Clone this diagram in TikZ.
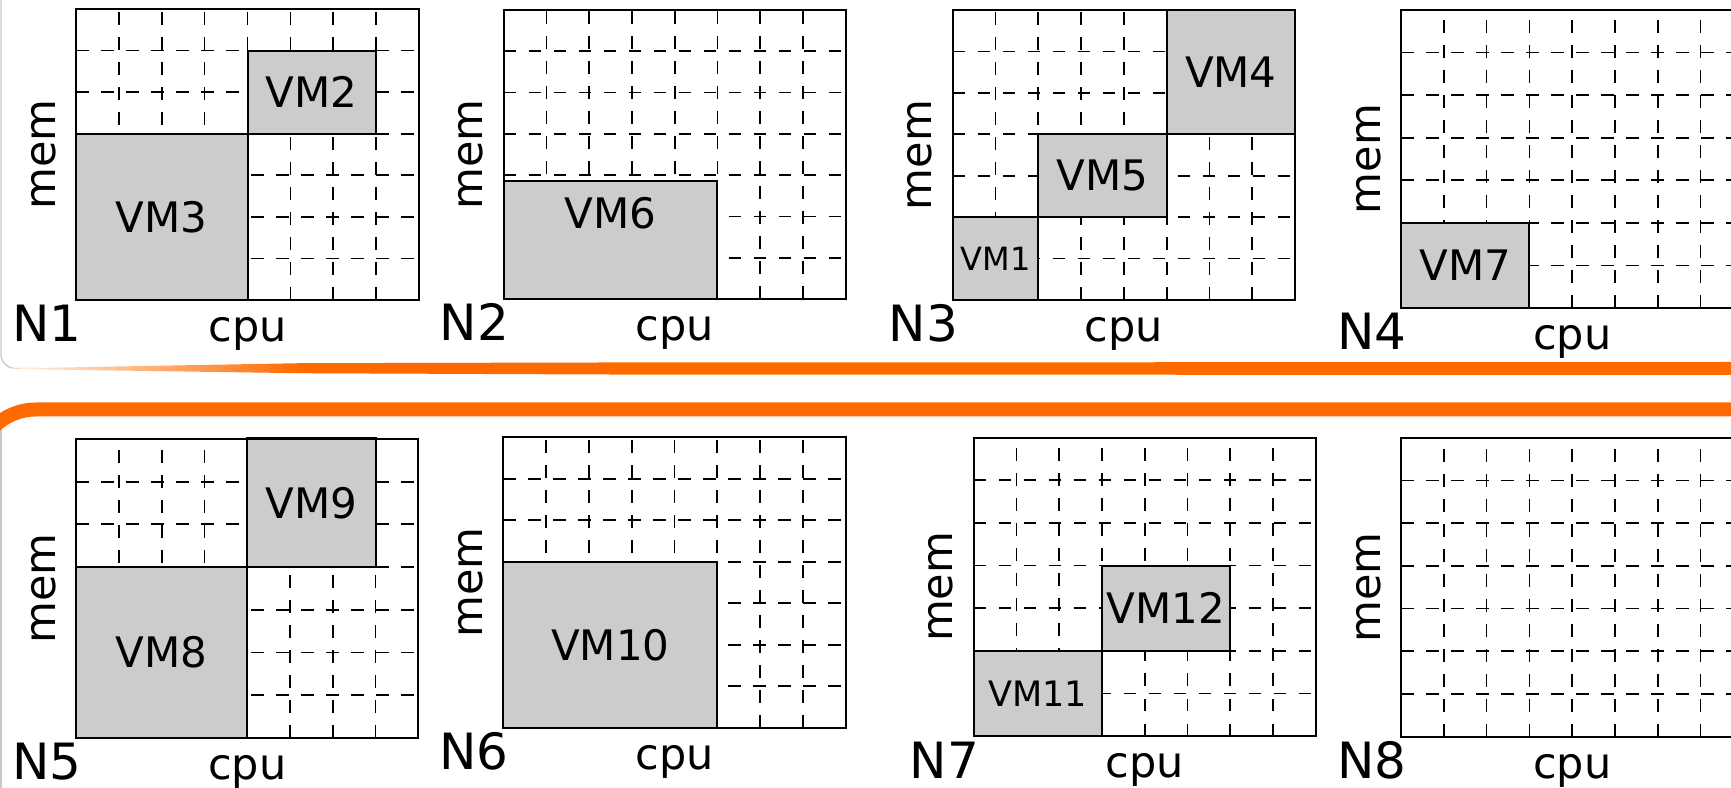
\documentclass[tikz,border=0pt]{standalone}
\usepackage{fontspec}
\setmainfont{DejaVu Sans}
\usetikzlibrary{positioning}
\definecolor{slideorange}{RGB}{255,106,0}
\definecolor{vmgray}{RGB}{204,204,204}
\definecolor{slideframe}{RGB}{200,200,200}
\tikzset{
  gridline/.style={line width=1.7pt, dash pattern=on 12.5pt off 12.5pt},
  frameline/.style={line width=2pt},
  vmbox/.style={draw=black, fill=vmgray, line width=2pt},
  vmlabel/.style={font=\fontsize{42}{42}\selectfont, inner sep=0pt},
  vmmid/.style={vmlabel, font=\fontsize{35}{35}\selectfont},
  vmsmall/.style={vmlabel, font=\fontsize{32}{32}\selectfont},
  axislabel/.style={font=\fontsize{43}{43}\selectfont, inner sep=0pt},
  hostname/.style={font=\fontsize{50}{50}\selectfont, inner sep=0pt}
}
% one host: name, left, bottom, cell width, cell height (8 x 7 cells)
\newenvironment{hostpanel}[5]{%
  \begin{scope}[shift={(#2,#3)}, x=#4pt, y=#5pt]
    \foreach \col in {1,...,7} \draw[gridline] (\col,0) -- (\col,7);
    \foreach \row in {1,...,6} \draw[gridline] (0,\row) -- (8,\row);
    \coordinate (#1-sw) at (0,0);
    \coordinate (#1-s) at (4,0);
    \coordinate (#1-w) at (0,3.5);
    \node[hostname, anchor=base west] (#1-name) at ([xshift=-64pt, yshift=-42pt]#1-sw) {#1};
    \node[axislabel, anchor=base] (#1-cpu) at ([yshift=-41.5pt]#1-s) {cpu};
    \node[axislabel, rotate=90, anchor=base] (#1-mem) at ([xshift=-21pt]#1-w) {mem};
}{%
    \draw[frameline] (0,0) rectangle (8,7);
  \end{scope}}

\begin{document}
\begin{tikzpicture}[x=1pt, y=1pt]
  \path[use as bounding box, clip] (0,0) rectangle (1731,787);
  \fill[white] (0,0) rectangle (1731,787);

  % slide frames
  \draw[slideframe, line width=1.2pt, rounded corners=14pt] (1,800) -- (1,418.6) -- (40,418.6);
  \shade[left color=slideorange!10, right color=slideorange] (12,418.6) -- (300,423.8) -- (300,413.8) -- (12,418) -- cycle;
  \fill[slideorange] (299,423.8) -- (600,424.5) -- (1731,425) -- (1731,412) -- (600,412.5) -- (299,413.8) -- cycle;
  \draw[slideframe, line width=1.2pt] (1,-5) -- (1,370);
  \draw[slideorange, line width=14pt, rounded corners=60pt] (-24,200) -- (-24,377.5) -- (1760,377.5);

  % first row
  \begin{hostpanel}{N1}{76}{487}{42.875}{41.57}
    \draw[vmbox] (0,0) rectangle (4,4);
    \draw[vmbox] (4,4) rectangle (7,6);
    \node[vmlabel] (vm3) at (2,2) {VM3};
    \node[vmlabel] (vm2) at (5.5,5) {VM2};
  \end{hostpanel}
  \begin{hostpanel}{N2}{503.7}{488}{42.75}{41.29}
    \draw[vmbox] (0,0) rectangle (5,2.86);
    \node[vmlabel] (vm6) at (2.5,2.08) {VM6};
  \end{hostpanel}
  \begin{hostpanel}{N3}{952.7}{487}{42.79}{41.43}
    \draw[vmbox] (0,0) rectangle (2,2);
    \draw[vmbox] (2,2) rectangle (5,4);
    \draw[vmbox] (5,4) rectangle (8,7);
    \node[vmsmall] (vm1) at (1,1) {VM1};
    \node[vmlabel] (vm5) at (3.5,3) {VM5};
    \node[vmlabel] (vm4) at (6.5,5.5) {VM4};
  \end{hostpanel}
  \begin{hostpanel}{N4}{1401}{479}{42.8}{42.57}
    \draw[vmbox] (0,0) rectangle (3,2);
    \node[vmlabel] (vm7) at (1.5,1) {VM7};
  \end{hostpanel}

  % second row
  \begin{hostpanel}{N5}{76.3}{49.3}{42.75}{42.67}
    \draw[vmbox] (0,0) rectangle (4,4);
    \draw[vmbox] (4,4) rectangle (7,7.03);
    \node[vmlabel] (vm8) at (2,2) {VM8};
    \node[vmlabel] (vm9) at (5.5,5.5) {VM9};
  \end{hostpanel}
  \begin{hostpanel}{N6}{503.3}{59.3}{42.8}{41.49}
    \draw[vmbox] (0,0) rectangle (5,4);
    \node[vmlabel] (vm10) at (2.5,2) {VM10};
  \end{hostpanel}
  \begin{hostpanel}{N7}{973.7}{51}{42.75}{42.61}
    \draw[vmbox] (0,0) rectangle (3,2);
    \draw[vmbox] (3,2) rectangle (6,4);
    \node[vmmid] (vm11) at (1.5,1) {VM11};
    \node[vmlabel] (vm12) at (4.5,3) {VM12};
  \end{hostpanel}
  \begin{hostpanel}{N8}{1401}{50.3}{42.8}{42.71}
  \end{hostpanel}
\end{tikzpicture}
\end{document}
